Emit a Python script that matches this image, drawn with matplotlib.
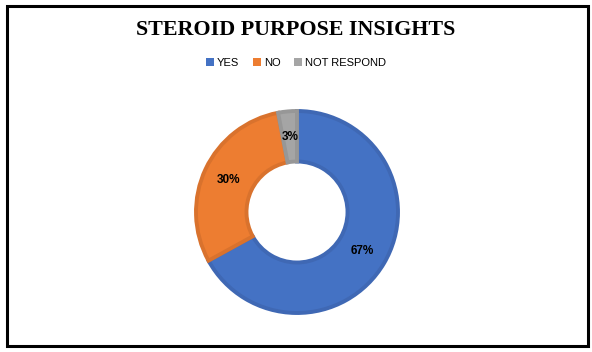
import matplotlib.pyplot as plt
from matplotlib.patches import Rectangle, Patch
import numpy as np

# dados
categorias = ['YES', 'NO', 'NOT RESPOND']
valores = [67, 30, 3]
cores = ['#4472C4', '#ED7D31', '#A5A5A5']
bordas = ['#3F68B4', '#D9722D', '#979797']

W, H = 592, 352
fig = plt.figure(figsize=(W / 100, H / 100), dpi=100)

# moldura preta
fig.patches.append(Rectangle((6.5 / W, 1 - 345.5 / H), 581 / W, 340 / H,
                             transform=fig.transFigure, fill=False,
                             edgecolor='black', linewidth=2.2))

# titulo
fig.text(0.5, 1 - 30 / H, 'STEROID PURPOSE INSIGHTS', ha='center', va='center',
         fontsize=15.8, fontweight='bold', family='Liberation Serif')

# rosca
cx, cy, r = 297, 212, 101
lim = 1.1
tam = 2 * lim * r
ax = fig.add_axes([(cx - tam / 2) / W, (H - cy - tam / 2) / H, tam / W, tam / H])
wedges, _ = ax.pie(valores, colors=cores, startangle=90, counterclock=False,
                   radius=1, wedgeprops=dict(width=0.5, linewidth=2.8))
for w, b in zip(wedges, bordas):
    w.set_edgecolor(b)

ang = 90.0
for v, w in zip(valores, wedges):
    meio = ang - v / 100 * 360 / 2
    ang -= v / 100 * 360
    x = 0.75 * np.cos(np.radians(meio))
    y = 0.75 * np.sin(np.radians(meio))
    ax.text(x, y, f'{v}%', ha='center', va='center', fontsize=8.5,
            fontweight='bold', family='Liberation Sans')
ax.set_xlim(-lim, lim)
ax.set_ylim(-lim, lim)
ax.set_aspect('equal')
ax.axis('off')

# legenda
handles = [Patch(facecolor=c, edgecolor='none') for c in cores]
fig.legend(handles, categorias, loc='center', bbox_to_anchor=(0.5, 1 - 63 / H),
           ncol=3, frameon=False, handlelength=0.7,
           handleheight=0.7, handletextpad=0.3, columnspacing=1.2,
           prop={'family': 'Liberation Sans', 'size': 8})

fig.savefig('out.png', dpi=100)
